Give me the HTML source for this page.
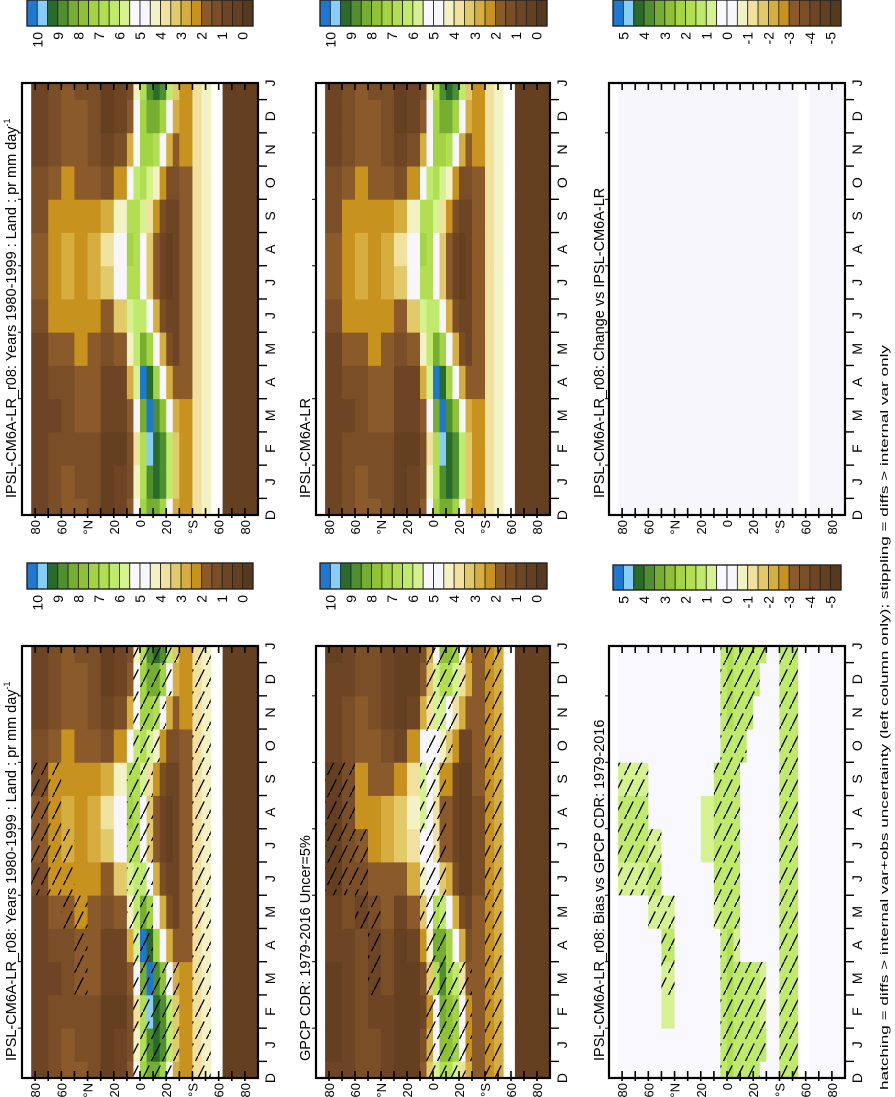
<!DOCTYPE html>
<html><head><meta charset="utf-8">
<style>
html,body{margin:0;padding:0;background:#fff;}
svg{display:block;font-family:"Liberation Sans",sans-serif;}
</style></head>
<body>
<svg id="fig" width="895" height="1097" viewBox="0 0 895 1097" xmlns="http://www.w3.org/2000/svg">
<defs>
<pattern id="hatch" patternUnits="userSpaceOnUse" width="11" height="22">
<line x1="0" y1="22" x2="11" y2="0" stroke="#000" stroke-width="1.3" stroke-dasharray="14 5"/>
</pattern>
</defs>
</svg>
<script>
// ---- data ----
const latEdges = [90,83,70,60,50,40,30,20,10,5,0,-5,-10,-15,-20,-25,-30,-40,-47,-54,-63,-90];
const monthLabels = ["D","J","F","M","A","M","J","J","A","S","O","N","D","J"];
const latTickLabels = ["80","60","°N","20","0","20","°S","60","80"];
const latTickValues = [80,60,40,20,0,-20,-40,-60,-80];
const absLabels = ["10","9","8","7","6","5","4","3","2","1","0"];
const diffLabels = ["5","4","3","2","1","0","-1","-2","-3","-4","-5"];
const colors = ["#1e78d2","#87cdfa","#2a6b2a","#4e9030","#76ae32","#8fc135","#a3d444","#b2df52","#c0ea6c","#d6f290","#f8f8fe","#f6f6fc","#f2f2c4","#f0e29e","#e2ca6a","#d6ae40","#c8921e","#8b5a2b","#7a4f28","#6d4524","#643f20","#573a1e"];
// model precipitation (mm/day), bands x months J..D
const model = [
 null,
 [0.8,0.8,0.8,0.9,1.0,1.3,1.6,1.7,1.5,1.2,1.0,0.9],
 [1.2,1.1,1.0,1.1,1.6,2.2,2.5,2.5,2.2,1.8,1.5,1.3],
 [1.6,1.4,1.4,1.5,2.0,2.4,2.6,2.6,2.4,2.1,1.9,1.7],
 [1.5,1.4,1.6,1.8,2.1,2.3,2.5,2.5,2.2,1.9,1.7,1.6],
 [1.2,1.3,1.6,1.9,2.0,2.2,2.9,2.9,2.3,1.6,1.3,1.2],
 [0.5,0.5,0.6,0.8,1.2,2.0,3.5,3.8,2.6,1.2,0.7,0.5],
 [0.6,0.5,0.6,1.0,2.0,3.5,4.6,4.8,4.2,2.5,1.2,0.8],
 [1.5,1.3,1.8,3.0,4.5,5.8,7.0,7.5,7.0,5.0,3.0,2.0],
 [4.5,4.0,5.0,6.0,6.5,6.5,6.8,6.8,6.8,6.5,5.5,5.0],
 [7.0,7.0,8.5,10.2,8.5,6.5,5.5,5.5,6.0,7.0,7.5,7.5],
 [9.0,9.6,10.2,9.5,7.5,5.0,3.5,3.5,4.0,6.0,7.5,8.5],
 [9.5,9.5,9.0,7.5,5.0,3.0,2.0,2.0,2.5,4.5,7.0,8.5],
 [9.0,9.0,8.0,5.5,3.0,1.5,1.0,1.0,1.2,2.5,5.0,7.5],
 [6.5,6.5,5.0,3.0,1.5,0.8,0.5,0.5,0.6,1.2,3.0,5.0],
 [3.5,3.5,2.8,1.8,1.0,0.7,0.6,0.6,0.7,1.2,2.0,3.0],
 [2.2,2.2,2.1,2.0,1.9,1.8,1.8,1.8,1.9,2.0,2.1,2.2],
 [3.6,3.6,3.6,3.6,3.6,3.6,3.6,3.6,3.6,3.6,3.6,3.6],
 [4.4,4.4,4.4,4.4,4.4,4.4,4.4,4.4,4.4,4.4,4.4,4.4],
 null,
 [0.3,0.3,0.3,0.3,0.3,0.3,0.3,0.3,0.3,0.3,0.3,0.3]
];
// bias model - GPCP (mm/day)
const bias = [
 null,
 [0.3,0.3,0.3,0.3,0.4,1.0,1.2,1.2,1.0,0.3,0.3,0.3],
 [0.3,0.3,0.3,0.3,0.4,0.9,1.2,1.2,1.0,0.3,0.3,0.3],
 [0.3,0.3,0.3,0.4,1.0,1.2,0.9,0.5,0.3,0.3,0.3,0.3],
 [0.4,0.6,1.0,1.2,1.0,0.5,0.3,0.3,0.3,0.3,0.3,0.3],
 [0.3,0.3,0.4,0.4,0.3,0.3,0.3,0.3,0.3,0.3,0.3,0.3],
 [0.3,0.3,0.3,0.3,0.3,0.4,0.4,0.3,0.3,0.3,0.3,0.3],
 [0.3,0.3,0.3,0.3,0.3,0.5,0.7,0.7,0.5,0.3,0.3,0.3],
 [0.3,0.3,0.3,0.5,1.0,1.3,1.5,1.5,1.3,0.4,0.3,0.3],
 [1.5,1.5,1.5,1.5,1.5,1.5,1.5,1.5,1.5,1.5,1.5,1.5],
 [1.8,1.8,1.8,1.8,1.5,1.5,1.5,1.5,1.5,1.5,1.8,1.8],
 [1.3,1.3,1.3,1.0,1.3,1.5,1.5,1.5,1.5,1.5,1.5,1.5],
 [1.5,1.5,1.5,0.3,0.3,0.3,0.3,0.3,0.3,1.2,1.5,1.5],
 [1.5,1.5,1.5,0.3,0.3,0.3,0.3,0.3,0.3,0.3,1.2,1.5],
 [1.5,1.5,1.2,0.3,0.3,0.3,0.3,0.3,0.3,0.3,0.3,1.2],
 [1.2,1.0,0.8,0.3,0.3,0.3,0.3,0.3,0.3,0.3,0.3,0.3],
 [0.3,0.3,0.3,0.3,0.3,0.3,0.3,0.3,0.3,0.3,0.3,0.3],
 [1.5,1.5,1.5,1.5,1.5,1.5,1.5,1.5,1.5,1.5,1.5,1.5],
 [1.4,1.4,1.4,1.4,1.4,1.4,1.4,1.4,1.4,1.4,1.4,1.4],
 null,
 [0.3,0.3,0.3,0.3,0.3,0.3,0.3,0.3,0.3,0.3,0.3,0.3]
];
// change vs IPSL-CM6A-LR (mm/day)
const change = [
 null,
 [0,0,0,0,0,0,0,0,0,0,0,0],
 [0,0,0,0,0,0,0,0,0,0,0,0],
 [0,0,0,0,0,0,0,0,0,0,0,0],
 [0,0,0,0,0,0,0,0,0,0,0,0],
 [0,0,0,0,0,0,0,0,0,0,0,0],
 [0,0,0,0,0,0,0,0,0,0,0,0],
 [0,0,0,0,0,0,0,0,0,0,0,0],
 [0,0,0,0,0,0,0,0,0,0,0,0],
 [0,0,0,0,0,0,0,0,0,0,0,0],
 [0,0,0,0,0,0,0,0,0,0,0,0],
 [0,0,0,0,0,0,0,0,0,0,0,0],
 [0,0,0,0,0,0,0,0,0,0,0,0],
 [0,0,0,0,0,0,0,0,0,0,0,0],
 [0,0,0,0,0,0,0,0,0,0,0,0],
 [0,0,0,0,0,0,0,0,0,0,0,0],
 [0,0,0,0,0,0,0,0,0,0,0,0],
 [0,0,0,0,0,0,0,0,0,0,0,0],
 [0,0,0,0,0,0,0,0,0,0,0,0],
 null,
 [0,0,0,0,0,0,0,0,0,0,0,0]
];

// ---- drawing ----
const NS = "http://www.w3.org/2000/svg";
const svg = document.getElementById("fig");
function mk(tag, attrs, parent){
  const e = document.createElementNS(NS, tag);
  for (const k in attrs) e.setAttribute(k, attrs[k]);
  (parent||svg).appendChild(e);
  return e;
}
function rtext(x, y, str, size, anchor, parent){
  const t = mk("text", {transform:"translate("+x+","+y+") rotate(-90)", "font-size":size, "text-anchor":anchor, fill:"#000"}, parent);
  t.textContent = str;
  return t;
}
function absIndex(v){ if (v >= 10) return 0; if (v < 0) return 21; return Math.min(20, 1 + Math.floor((10 - v) / 0.5)); }
function diffIndex(v){ if (v >= 5) return 0; if (v < -5) return 21; return Math.min(20, 1 + Math.floor((5 - v) / 0.5)); }

const panels = [
 {id:"model-mean-top", x0:22, x1:258, y0:83, y1:515, kind:"model", hatch:false, tx:16, title:"IPSL-CM6A-LR_r08: Years 1980-1999 : Land : pr mm day", sup:true},
 {id:"model-mean-bottom", x0:22, x1:258, y0:646, y1:1078, kind:"model", hatch:true, tx:16, title:"IPSL-CM6A-LR_r08: Years 1980-1999 : Land : pr mm day", sup:true},
 {id:"reference-model", x0:316, x1:550, y0:83, y1:515, kind:"model", hatch:false, tx:310, title:"IPSL-CM6A-LR"},
 {id:"gpcp-obs", x0:316, x1:550, y0:646, y1:1078, kind:"obs", hatch:true, tx:310, title:"GPCP CDR: 1979-2016 Uncer=5%"},
 {id:"change-panel", x0:609, x1:845, y0:83, y1:515, kind:"change", hatch:false, tx:604, title:"IPSL-CM6A-LR_r08: Change vs IPSL-CM6A-LR"},
 {id:"bias-panel", x0:609, x1:845, y0:646, y1:1078, kind:"bias", hatch:true, tx:604, title:"IPSL-CM6A-LR_r08: Bias vs GPCP CDR: 1979-2016"}
];
const colorbars = [
 {id:"colorbar-top-left", x0:27, x1:253, y0:0, y1:26, labels:absLabels},
 {id:"colorbar-bottom-left", x0:27, x1:253, y0:563, y1:589, labels:absLabels},
 {id:"colorbar-top-middle", x0:320, x1:547, y0:0, y1:26, labels:absLabels},
 {id:"colorbar-bottom-middle", x0:320, x1:547, y0:563, y1:589, labels:absLabels},
 {id:"colorbar-top-right", x0:613, x1:841, y0:0, y1:26, labels:diffLabels},
 {id:"colorbar-bottom-right", x0:613, x1:841, y0:565, y1:590, labels:diffLabels}
];

panels.forEach(p => {
  const g = mk("g", {});
  
  
  const xOf = lat => p.x0 + (90 - lat) / 180 * (p.x1 - p.x0);
  const h = (p.y1 - p.y0) / 13;
  const yOf = k => p.y1 - k * h;
  const clipId = "clip-" + p.id;
  const cp = mk("clipPath", {id:clipId}, g);
  mk("rect", {x:p.x0, y:p.y0, width:p.x1-p.x0, height:p.y1-p.y0}, cp);
  const cells = mk("g", {"clip-path":"url(#"+clipId+")"}, g);
  mk("rect", {x:p.x0, y:p.y0, width:p.x1-p.x0, height:p.y1-p.y0, fill:"#fff"}, cells);
  for (let b = 0; b < latEdges.length - 1; b++) {
    const src = p.kind === "bias" ? bias[b] : p.kind === "change" ? change[b] : model[b];
    if (!src) continue;
    for (let k = 0; k < 14; k++) {
      const m = (k + 11) % 12;
      let v = src[m];
      if (p.kind === "obs") v = model[b][m] - bias[b][m];
      const idx = (p.kind === "bias" || p.kind === "change") ? diffIndex(v) : absIndex(v);
      const xa = xOf(latEdges[b]), xb = xOf(latEdges[b+1]);
      const c = mk("rect", {x:xa.toFixed(2), y:(yOf(k)-h/2).toFixed(2), width:(xb-xa+0.4).toFixed(2), height:(h+0.4).toFixed(2), fill:colors[idx]}, cells);
      
      
      if (p.hatch && bias[b][m] >= 0.8) {
        const hc = mk("rect", {x:xa.toFixed(2), y:(yOf(k)-h/2).toFixed(2), width:(xb-xa).toFixed(2), height:h.toFixed(2), fill:"url(#hatch)"}, cells);
        
        
      }
    }
  }
  const fr = mk("rect", {x:p.x0, y:p.y0, width:p.x1-p.x0, height:p.y1-p.y0, fill:"none", stroke:"#000", "stroke-width":2.2}, g);
  
  
  for (let lat = -80; lat <= 80; lat += 10) {
    const x = xOf(lat);
    mk("line", {x1:x, x2:x, y1:p.y0, y2:p.y0+7, stroke:"#000", "stroke-width":1.6}, g);
    mk("line", {x1:x, x2:x, y1:p.y1-7, y2:p.y1+3, stroke:"#000", "stroke-width":1.6}, g);
  }
  latTickLabels.forEach((s, i) => {
    const t = rtext(xOf(latTickValues[i]) + 5, p.y1 + 5, s, 13, "end", g);
    
    
  });
  for (let k = 0; k < 13; k++) {
    const y = yOf(k) - h/2;
    mk("line", {x1:p.x1, x2:p.x1+9, y1:y, y2:y, stroke:"#000", "stroke-width":1.4}, g);
    if (k % 2 === 1) mk("line", {x1:p.x0-4, x2:p.x0, y1:y, y2:y, stroke:"#000", "stroke-width":1}, g);
  }
  monthLabels.forEach((s, k) => {
    const t = rtext(p.x1 + 17, yOf(k), s, 14, "middle", g);
    
    
  });
  const tt = rtext(p.tx, p.y1 - 17, p.title, 14.5, "start", g);
  if (p.sup) {
    const ts = document.createElementNS(NS, "tspan");
    ts.setAttribute("font-size", "9"); ts.setAttribute("dy", "-6");
    ts.textContent = "-1";
    tt.appendChild(ts);
  }
  
  
});

colorbars.forEach(cb => {
  const g = mk("g", {});
  
  
  const w = (cb.x1 - cb.x0) / colors.length;
  colors.forEach((c, i) => {
    const r = mk("rect", {x:(cb.x0 + i*w).toFixed(2), y:cb.y0, width:w.toFixed(2), height:cb.y1-cb.y0, fill:c, stroke:"#222", "stroke-width":0.8}, g);
    
    
  });
  mk("rect", {x:cb.x0, y:cb.y0, width:cb.x1-cb.x0, height:cb.y1-cb.y0, fill:"none", stroke:"#222", "stroke-width":1.4}, g);
  cb.labels.forEach((s, k) => {
    const t = rtext(cb.x0 + w*(1+2*k) + 5, cb.y1 + 6, s, 14, "end", g);
    
    
  });
});

const fn = rtext(888, 1090, "hatching = diffs > internal var+obs uncertainty (left column only); stippling = diffs > internal var only", 11, "start");
fn.setAttribute("textLength", "745");
fn.setAttribute("lengthAdjust", "spacingAndGlyphs");


</script>
</body></html>
